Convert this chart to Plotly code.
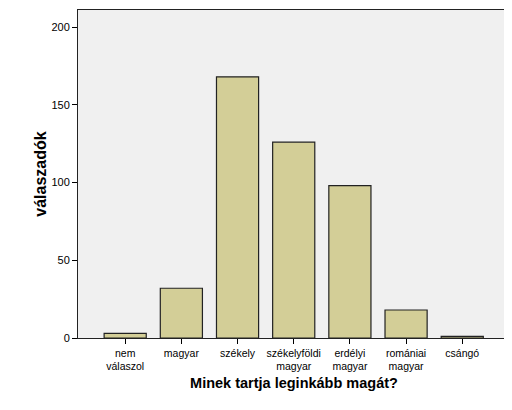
import plotly.graph_objects as go

categories = ["nem<br>válaszol", "magyar", "székely", "székelyföldi<br>magyar",
              "erdélyi<br>magyar", "romániai<br>magyar", "csángó"]
counts = [3, 32, 168, 126, 98, 18, 1]
y_ticks = [0, 50, 100, 150, 200]

fig = go.Figure(go.Bar(
    x=categories, y=counts,
    marker=dict(color="#d3ce97", line=dict(color="#222222", width=1.2)),
))

# page body has an 8px default margin, so the figure is sized 504x402
fig.update_layout(
    width=504, height=402,
    margin=dict(l=70, r=2, t=2, b=72),
    paper_bgcolor="white", plot_bgcolor="#f0f0f0",
    bargap=0.25, showlegend=False,
    font=dict(family="Liberation Sans, Arial", size=11, color="black"),
)
fig.update_xaxes(
    range=[-0.84, 6.85],
    showline=True, linecolor="#222222", linewidth=1, mirror=True,
    ticks="outside", ticklen=5, tickcolor="black",
    tickfont=dict(size=10.5, color="black"),
    title=dict(text="Minek tartja leginkább magát?",
               font=dict(size=14.5, family="Liberation Sans, Arial", weight="bold"),
               standoff=6),
)
fig.update_yaxes(
    range=[0, 211], tickvals=y_ticks, showgrid=False, zeroline=False,
    showline=True, linecolor="#222222", linewidth=1, mirror=True,
    ticks="outside", ticklen=5, tickcolor="black",
    tickfont=dict(size=11, color="black"),
    title=dict(text="válaszadók",
               font=dict(size=16, family="Liberation Sans, Arial", weight="bold"),
               standoff=0),
)

fig.write_html("out.html")
